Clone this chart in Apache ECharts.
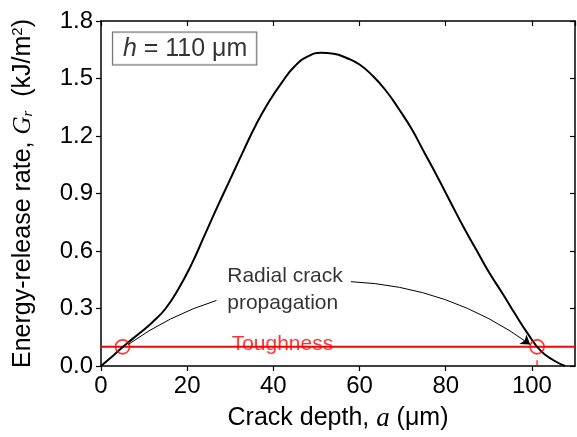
<!DOCTYPE html>
<html><head><meta charset="utf-8">
<script src="https://cdn.jsdelivr.net/npm/echarts@6/dist/echarts.min.js"></script>
<style>html,body{margin:0;padding:0;background:#fff}#c{width:577px;height:437px}</style>
</head><body><div id="c"></div>
<script>
// Data
const crackDepth = [0, 3, 6, 9, 12, 15, 18, 21, 24, 27, 30, 33, 36, 39, 42, 45, 48, 51, 54, 57, 60, 63, 66, 69, 72, 75, 78, 81, 84, 87, 90, 93, 96, 99, 102, 105, 107.7];
const energyRate = [0, 0.058, 0.117, 0.172, 0.23, 0.3, 0.403, 0.53, 0.68, 0.83, 0.975, 1.12, 1.26, 1.38, 1.48, 1.565, 1.615, 1.634, 1.629, 1.607, 1.573, 1.515, 1.44, 1.345, 1.24, 1.115, 0.99, 0.86, 0.73, 0.61, 0.49, 0.385, 0.275, 0.17, 0.08, 0.03, 0];
const toughness = 0.1;
const intersections = [5, 101.2];
const xRange = [0, 110];
const yRange = [0, 1.8];
const xInterval = 20;
const yInterval = 0.3;
// annotation anchors (data coordinates)
const arrowLeft = [[26.8, 0.342], [6.3, 0.112]];
const arrowRight = [[58.0, 0.44], [99.6, 0.112]];
const dropLine = [[101.2, 0.03], [101.2, 0.005]];
const textRadial = [29.3, 0.4];
const textTough = [42.1, 0.1];
const textH = [19.4, 1.657];

const FONT = 'Liberation Sans';
const curve = crackDepth.map((x, i) => [x, energyRate[i]]);

const chart = echarts.init(document.getElementById('c'), null, {renderer: 'canvas'});
const baseX = {
  type: 'value', min: xRange[0], max: xRange[1], interval: xInterval,
  axisLine: {show: true, onZero: false, lineStyle: {color: '#000', width: 1.5}},
  splitLine: {show: false}
};
const baseY = {
  type: 'value', min: yRange[0], max: yRange[1], interval: yInterval,
  axisLine: {show: true, onZero: false, lineStyle: {color: '#000', width: 1.5}},
  splitLine: {show: false}
};
chart.setOption({
  animation: false,
  backgroundColor: '#fff',
  grid: {left: 101, right: 2, top: 21, bottom: 67, containLabel: false},
  xAxis: [
    Object.assign({}, baseX, {
      position: 'bottom',
      axisTick: {show: true, inside: false, length: 5, lineStyle: {color: '#000', width: 1.2}},
      axisLabel: {fontFamily: FONT, fontSize: 24, color: '#000', margin: 8, showMaxLabel: false},
      name: '{t|Crack depth, }{a|a}{t| (μm)}',
      nameLocation: 'middle', nameGap: 39,
      nameTextStyle: {rich: {
        t: {fontFamily: FONT, fontSize: 25, color: '#000'},
        a: {fontFamily: 'Liberation Serif', fontStyle: 'italic', fontSize: 27, color: '#000'}
      }}
    }),
    Object.assign({}, baseX, {
      position: 'top',
      axisTick: {show: true, inside: true, length: 5, lineStyle: {color: '#000', width: 1.2}},
      axisLabel: {show: false}
    })
  ],
  yAxis: [
    Object.assign({}, baseY, {
      position: 'left',
      axisTick: {show: true, inside: false, length: 5, lineStyle: {color: '#000', width: 1.2}},
      axisLabel: {fontFamily: FONT, fontSize: 24, color: '#000', margin: 8,
        formatter: v => v.toFixed(1)},
      name: '{t|Energy-release rate, }{g|G}{s|r}{t|  (kJ/m}{p|2}{t|)}',
      nameLocation: 'middle', nameGap: 64, nameRotate: 90,
      nameTextStyle: {rich: {
        t: {fontFamily: FONT, fontSize: 25, color: '#000'},
        g: {fontFamily: 'Liberation Serif', fontStyle: 'italic', fontSize: 25, color: '#000'},
        s: {fontFamily: 'Liberation Serif', fontStyle: 'italic', fontSize: 15, color: '#000', padding: [10, 0, 0, 0]},
        p: {fontFamily: FONT, fontSize: 15, color: '#000', padding: [0, 0, 12, 0]}
      }}
    }),
    Object.assign({}, baseY, {
      position: 'right',
      axisTick: {show: true, inside: true, length: 5, lineStyle: {color: '#000', width: 1.2}},
      axisLabel: {show: false}
    })
  ],
  series: [
    {
      type: 'line', data: [[xRange[0], toughness], [xRange[1], toughness]],
      symbol: 'none', lineStyle: {color: '#ff0000', width: 2}, z: 2
    },
    {
      type: 'line', data: curve, smooth: 0.5, symbol: 'none',
      lineStyle: {color: '#000', width: 2}, z: 3
    },
    {
      type: 'scatter', data: intersections.map(x => [x, toughness]),
      symbol: 'circle', symbolSize: 14,
      itemStyle: {color: 'rgba(0,0,0,0)', borderColor: '#ff0000', borderWidth: 1.6}, z: 4
    },
    {
      type: 'line', data: dropLine, symbol: 'none',
      lineStyle: {color: '#ff0000', width: 1.2}, z: 2
    },
    {
      type: 'lines', coordinateSystem: 'cartesian2d', z: 5,
      data: [
        {coords: arrowLeft, lineStyle: {curveness: -0.08}, symbol: ['none', 'none']},
        {coords: arrowRight, lineStyle: {curveness: 0.15}}
      ],
      symbol: ['none', 'arrow'], symbolSize: [0, 9],
      lineStyle: {color: '#000', width: 1, opacity: 1}
    },
    {
      type: 'scatter', symbolSize: 0, z: 6, silent: true,
      data: [
        {value: textRadial, label: {show: true, position: 'right', distance: 0, align: 'left',
          formatter: 'Radial crack\npropagation', fontFamily: FONT, fontSize: 21, lineHeight: 27, color: '#000'}},
        {value: textTough, label: {show: true, position: 'inside', offset: [0, -3],
          formatter: 'Toughness', fontFamily: FONT, fontSize: 21, color: '#ff0000'}},
        {value: textH, label: {show: true, position: 'inside',
          formatter: '{i|h}{t| = 110 μm}',
          backgroundColor: '#fff', borderColor: '#444', borderWidth: 1, padding: [4, 9, 3, 10],
          rich: {
            i: {fontFamily: FONT, fontStyle: 'italic', fontSize: 25, color: '#000'},
            t: {fontFamily: FONT, fontSize: 25, color: '#000'}
          }}}
      ]
    }
  ]
});
</script>
</body></html>
